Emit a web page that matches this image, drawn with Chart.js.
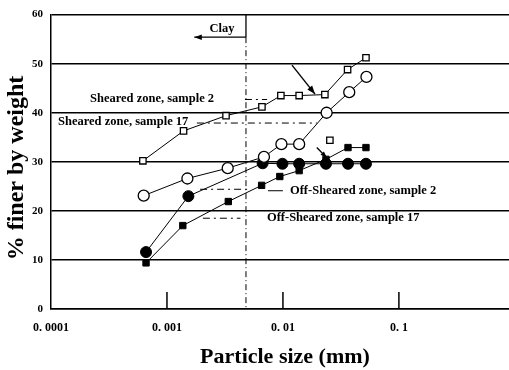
<!DOCTYPE html>
<html>
<head>
<meta charset="utf-8">
<script src="https://cdn.jsdelivr.net/npm/chart.js@4/dist/chart.umd.min.js"></script>
<style>
html, body { margin: 0; padding: 0; background: #fff; }
#wrap { width: 509px; height: 370px; }
</style>
</head>
<body>
<div id="wrap"><canvas id="chart"></canvas></div>
<script>
// particle size (mm) and % finer
var sheared2X = [0.00062, 0.00139, 0.00323, 0.00659, 0.0096, 0.0138, 0.023, 0.0361, 0.052];
var sheared2Y = [30.2, 36.3, 39.4, 41.2, 43.5, 43.5, 43.7, 48.8, 51.2];
var sheared17X = [0.00063, 0.0015, 0.00334, 0.00686, 0.0097, 0.0138, 0.0238, 0.0373, 0.0525];
var sheared17Y = [23.1, 26.6, 28.7, 31.0, 33.6, 33.6, 40.0, 44.2, 47.3];
var offSheared2X = [0.00066, 0.00153, 0.00668, 0.0099, 0.0138, 0.0235, 0.0364, 0.052];
var offSheared2Y = [11.6, 23.0, 29.7, 29.6, 29.6, 29.6, 29.6, 29.6];
var offSheared17X = [0.00066, 0.00137, 0.00338, 0.00655, 0.0094, 0.0138, 0.0235, 0.0364, 0.052];
var offSheared17Y = [9.4, 17.0, 21.9, 25.2, 27.0, 28.2, 30.5, 32.9, 32.9];
var strayX = [0.0254];
var strayY = [34.4];

var xTicks = [0.0001, 0.001, 0.01, 0.1];
var xTickLabels = ['0. 0001', '0. 001', '0. 01', '0. 1'];

// label texts and where they sit (data coords)
var labelTexts = ['Sheared zone, sample 2', 'Sheared zone, sample 17', 'Off-Sheared zone, sample 2', 'Off-Sheared zone, sample 17'];
var labelX = [0.000217, 0.000115, 0.0115, 0.00728];
var labelY = [42.8, 38.1, 24.1, 18.5];
var clayBoundary = 0.0048;

var serif = '"Liberation Serif", "Times New Roman", serif';

function pts(xs, ys) {
	return xs.map(function(x, i) { return { x: x, y: ys[i] }; });
}

function arrow(ctx, x1, y1, x2, y2, size) {
	ctx.beginPath();
	ctx.moveTo(x1, y1);
	ctx.lineTo(x2, y2);
	ctx.stroke();
	var a = Math.atan2(y2 - y1, x2 - x1);
	ctx.beginPath();
	ctx.moveTo(x2, y2);
	ctx.lineTo(x2 - size * Math.cos(a - 0.35), y2 - size * Math.sin(a - 0.35));
	ctx.lineTo(x2 - size * Math.cos(a + 0.35), y2 - size * Math.sin(a + 0.35));
	ctx.closePath();
	ctx.fill();
}

var extras = {
	id: 'extras',
	beforeDatasetsDraw: function(chart) {
		var ctx = chart.ctx, xs = chart.scales.x, ys = chart.scales.y;
		var X = function(v) { return xs.getPixelForValue(v); };
		var Y = function(v) { return ys.getPixelForValue(v); };
		ctx.save();
		ctx.strokeStyle = '#000';
		ctx.fillStyle = '#000';
		// clay boundary
		ctx.lineWidth = 1.3;
		ctx.beginPath();
		ctx.moveTo(X(clayBoundary), Y(60));
		ctx.lineTo(X(clayBoundary), Y(55.4));
		ctx.stroke();
		arrow(ctx, X(clayBoundary), Y(55.4), X(0.00172), Y(55.4), 8);
		ctx.lineWidth = 1;
		ctx.setLineDash([6, 3, 1, 3]);
		ctx.beginPath();
		ctx.moveTo(X(clayBoundary), Y(55.4));
		ctx.lineTo(X(clayBoundary), Y(0));
		ctx.stroke();
		// leader lines
		ctx.setLineDash([7, 4, 2, 4]);
		var leaders = [
			[0.0047, 0.0073, 42.7],
			[0.00181, 0.0196, 37.9],
			[0.00193, 0.0052, 24.4],
			[0.00204, 0.0043, 18.5]
		];
		leaders.forEach(function(l) {
			ctx.beginPath();
			ctx.moveTo(X(l[0]), Y(l[2]));
			ctx.lineTo(X(l[1]), Y(l[2]));
			ctx.stroke();
		});
		ctx.setLineDash([]);
		ctx.beginPath();
		ctx.moveTo(X(0.00743), Y(24.1));
		ctx.lineTo(X(0.0100), Y(24.1));
		ctx.stroke();
		ctx.restore();
	},
	afterDatasetsDraw: function(chart) {
		var ctx = chart.ctx, xs = chart.scales.x, ys = chart.scales.y;
		var X = function(v) { return xs.getPixelForValue(v); };
		var Y = function(v) { return ys.getPixelForValue(v); };
		ctx.save();
		ctx.strokeStyle = '#000';
		ctx.fillStyle = '#000';
		ctx.lineWidth = 1.4;
		arrow(ctx, X(0.01197), Y(49.7), X(0.0189), Y(43.8), 9);
		arrow(ctx, X(0.0196), Y(32.9), X(0.0239), Y(30.8), 7);
		// inward tick marks
		ctx.lineWidth = 1.5;
		xTicks.slice(1).forEach(function(v) {
			ctx.beginPath();
			ctx.moveTo(X(v), ys.bottom);
			ctx.lineTo(X(v), ys.bottom - 17);
			ctx.stroke();
		});
		// text labels
		ctx.font = 'bold 12.5px ' + serif;
		ctx.textBaseline = 'middle';
		ctx.textAlign = 'left';
		labelTexts.forEach(function(t, i) {
			ctx.fillText(t, X(labelX[i]), Y(labelY[i]));
		});
		ctx.textAlign = 'center';
		ctx.fillText('Clay', X(0.00298), Y(57.2));
		// axis titles
		ctx.font = 'bold 22px ' + serif;
		ctx.fillText('Particle size (mm)', 285, 357);
		ctx.save();
		ctx.translate(17, 168);
		ctx.rotate(-Math.PI / 2);
		ctx.font = 'bold 24px ' + serif;
		ctx.fillText('% finer by weight', 0, 0);
		ctx.restore();
		ctx.restore();
	}
};

var ctx = document.getElementById('chart');
var lineColor = '#000';

new Chart(ctx, {
	type: 'scatter',
	data: {
		datasets: [
			{
				label: 'Sheared zone, sample 2',
				data: pts(sheared2X, sheared2Y),
				showLine: true,
				borderColor: lineColor,
				borderWidth: 1,
				pointStyle: 'rect',
				pointRadius: 4.5,
				pointBackgroundColor: '#fff',
				pointBorderColor: '#000',
				pointBorderWidth: 1.3
			},
			{
				label: 'Sheared zone, sample 17',
				data: pts(sheared17X, sheared17Y),
				showLine: true,
				borderColor: lineColor,
				borderWidth: 1,
				pointStyle: 'circle',
				pointRadius: 5.5,
				pointBackgroundColor: '#fff',
				pointBorderColor: '#000',
				pointBorderWidth: 1.3
			},
			{
				label: 'Off-Sheared zone, sample 17',
				data: pts(offSheared17X, offSheared17Y),
				showLine: true,
				borderColor: lineColor,
				borderWidth: 1,
				pointStyle: 'rect',
				pointRadius: 4.5,
				pointBackgroundColor: '#000',
				pointBorderColor: '#000',
				pointBorderWidth: 1
			},
			{
				label: 'Off-Sheared zone, sample 2',
				data: pts(offSheared2X, offSheared2Y),
				showLine: true,
				borderColor: lineColor,
				borderWidth: 1,
				pointStyle: 'circle',
				pointRadius: 5.5,
				pointBackgroundColor: '#000',
				pointBorderColor: '#000',
				pointBorderWidth: 1
			},
			{
				label: 'extra',
				data: pts(strayX, strayY),
				showLine: false,
				pointStyle: 'rect',
				pointRadius: 4.5,
				pointBackgroundColor: '#fff',
				pointBorderColor: '#000',
				pointBorderWidth: 1.3
			}
		]
	},
	options: {
		responsive: true,
		maintainAspectRatio: false,
		animation: false,
		devicePixelRatio: 1,
		layout: { autoPadding: false, padding: { top: 13, right: 0, left: 0, bottom: 0 } },
		plugins: {
			legend: { display: false },
			tooltip: { enabled: false }
		},
		scales: {
			x: {
				type: 'logarithmic',
				min: 0.0001,
				max: 0.89,
				afterBuildTicks: function(scale) {
					scale.ticks = xTicks.map(function(v) { return { value: v }; });
				},
				afterFit: function(scale) { scale.height = 61; },
				grid: { drawOnChartArea: false, drawTicks: false },
				border: { color: '#000', width: 1.5 },
				ticks: {
					autoSkip: false,
					maxRotation: 0,
					padding: 12,
					color: '#000',
					font: { family: serif, size: 12, weight: 'bold' },
					callback: function(v) {
						var i = xTicks.indexOf(v);
						return i >= 0 ? xTickLabels[i] : '';
					}
				}
			},
			y: {
				min: 0,
				max: 60,
				afterFit: function(scale) { scale.width = 51; },
				grid: { color: '#000', lineWidth: 1.5, drawTicks: false },
				border: { color: '#000', width: 1.5 },
				ticks: {
					stepSize: 10,
					padding: 8,
					color: '#000',
					font: { family: serif, size: 11, weight: 'bold' }
				}
			}
		}
	},
	plugins: [extras]
});
</script>
</body>
</html>
